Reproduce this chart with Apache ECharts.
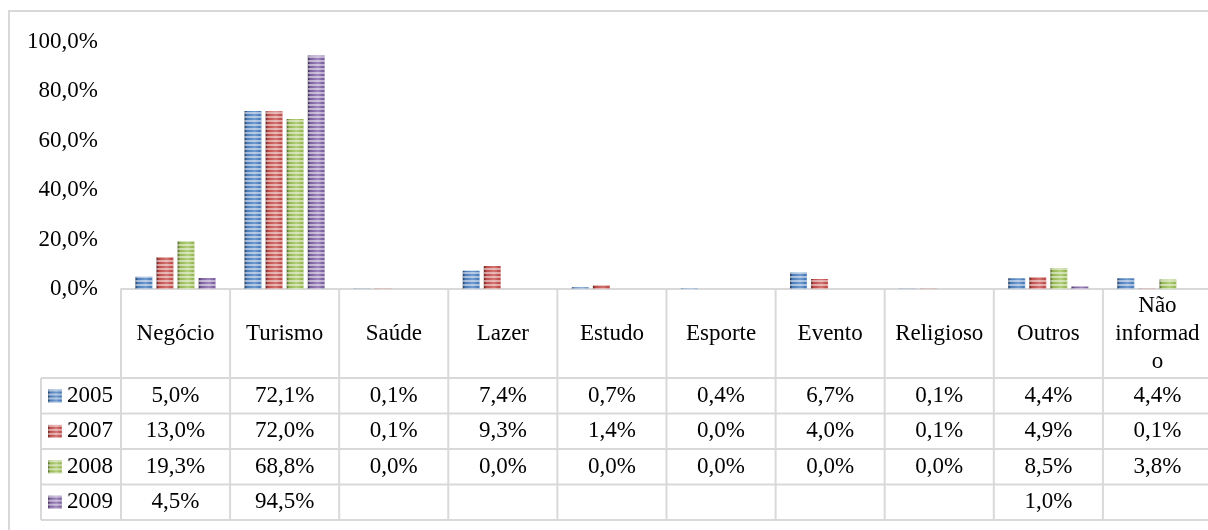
<!DOCTYPE html>
<html>
<head>
<meta charset="utf-8">
<script src="https://cdn.jsdelivr.net/npm/echarts@6/dist/echarts.min.js"></script>
<style>
  html, body { margin: 0; padding: 0; background: #fff; }
  #chart { width: 1208px; height: 530px; }
</style>
</head>
<body>
<div id="chart"></div>
<script>
// categorias (motivo da viagem)
const categories = ['Negócio', 'Turismo', 'Saúde', 'Lazer', 'Estudo', 'Esporte', 'Evento', 'Religioso', 'Outros', 'Não informado']
// rótulos do cabeçalho da tabela (quebra igual ao original)
const headerLabels = ['Negócio', 'Turismo', 'Saúde', 'Lazer', 'Estudo', 'Esporte', 'Evento', 'Religioso', 'Outros', 'Não\ninformad\no']
const years = ['2005', '2007', '2008', '2009']

const v2005 = [5.0, 72.1, 0.1, 7.4, 0.7, 0.4, 6.7, 0.1, 4.4, 4.4]
const v2007 = [13.0, 72.0, 0.1, 9.3, 1.4, 0.0, 4.0, 0.1, 4.9, 0.1]
const v2008 = [19.3, 68.8, 0.0, 0.0, 0.0, 0.0, 0.0, 0.0, 8.5, 3.8]
const v2009 = [4.5, 94.5, null, null, null, null, null, null, 1.0, null]

const yMin = 0
const yMax = 100
const yStep = 20

const seriesValues = [v2005, v2007, v2008, v2009]

// cores estilo Office
const palette = [
  { dark: '#1f3656', base: '#4a7ab5', light: '#6f9bd0' },
  { dark: '#5a1f1d', base: '#bb4a47', light: '#d47572' },
  { dark: '#4a5c25', base: '#94b552', light: '#b3cf7a' },
  { dark: '#3a2c4d', base: '#7a5e9c', light: '#9f86bd' }
]

const font = 'Liberation Serif, Times New Roman, serif'
const fontSize = 23
const lineColor = '#d9d9d9'

// layout da tabela
const plotLeft = 121
const axisY = 289
const tableLeft = 41
const tableRight = 1212
const rowLines = [378, 413.5, 449, 484.5, 520]
const rowCenters = [396, 431, 467, 502]

const fmt = v => (v == null ? '' : v.toFixed(1).replace('.', ',') + '%')

const chart = echarts.init(document.getElementById('chart'))

const barColor = p => ({
  type: 'linear', x: 0, y: 0, x2: 1, y2: 0,
  colorStops: [
    { offset: 0, color: p.dark },
    { offset: 0.14, color: p.base },
    { offset: 0.6, color: p.light },
    { offset: 0.92, color: p.base },
    { offset: 1, color: p.light }
  ]
})

const hLine = (x1, y1, x2, y2) => ({
  type: 'line', silent: true, z: 1,
  shape: { x1, y1, x2, y2 },
  style: { stroke: lineColor, lineWidth: 2 }
})

const baseGraphic = [
  {
    type: 'rect', silent: true,
    shape: { x: 9, y: 11, width: 1260, height: 600 },
    style: { fill: null, stroke: lineColor, lineWidth: 2 }
  },
  hLine(tableLeft, rowLines[0], tableLeft, rowLines[rowLines.length - 1]),
  ...rowLines.map(y => hLine(tableLeft, y, tableRight, y))
]

const option = {
  backgroundColor: '#fff',
  animation: false,
  aria: { enabled: true, decal: { show: true } },
  grid: {
    left: plotLeft,
    top: 42,
    width: tableRight - plotLeft,
    height: axisY - 42,
    containLabel: false,
    outerBoundsMode: 'none'
  },
  legend: {
    orient: 'vertical',
    left: 48,
    top: 384.5,
    padding: 0,
    itemWidth: 14,
    itemHeight: 13,
    itemGap: 12.4,
    icon: 'rect',
    selectedMode: false,
    data: years,
    textStyle: { fontFamily: font, fontSize, color: '#000', lineHeight: 23 }
  },
  xAxis: [
    {
      type: 'category',
      data: categories,
      axisLine: { lineStyle: { color: lineColor, width: 2 } },
      axisTick: { show: false },
      axisLabel: {
        interval: 0,
        margin: 45,
        verticalAlign: 'middle',
        lineHeight: 28,
        fontFamily: font,
        fontSize,
        color: '#000',
        formatter: (v, i) => headerLabels[i]
      }
    },
    ...seriesValues.map((vals, k) => ({
      type: 'category',
      data: categories,
      position: 'bottom',
      axisLine: { show: false },
      axisTick: { show: false },
      axisLabel: {
        interval: 0,
        margin: rowCenters[k] - axisY,
        verticalAlign: 'middle',
        fontFamily: font,
        fontSize,
        color: '#000',
        formatter: (v, i) => fmt(vals[i])
      }
    }))
  ],
  yAxis: {
    type: 'value',
    min: yMin,
    max: yMax,
    interval: yStep,
    axisLine: { show: false },
    axisTick: { show: false },
    splitLine: { show: false },
    axisLabel: {
      margin: 23,
      fontFamily: font,
      fontSize,
      color: '#000',
      formatter: v => v.toFixed(1).replace('.', ',') + '%'
    }
  },
  series: years.map((name, i) => ({
    name,
    type: 'bar',
    xAxisIndex: 0,
    data: seriesValues[i],
    barWidth: 17,
    barGap: '24%',
    itemStyle: {
      color: barColor(palette[i]),
      borderWidth: 0,
      decal: {
        symbol: 'rect',
        symbolSize: 1,
        dashArrayX: [1, 0],
        dashArrayY: [2, 2],
        rotation: 0,
        color: 'rgba(255,255,255,0.5)'
      }
    }
  })),
  graphic: baseGraphic
}

chart.setOption(option)

// linhas verticais da tabela nos limites das categorias
const c0 = chart.convertToPixel({ xAxisIndex: 0 }, categories[0])
const c1 = chart.convertToPixel({ xAxisIndex: 0 }, categories[1])
const band = c1 - c0
const bounds = categories.map(c => chart.convertToPixel({ xAxisIndex: 0 }, c) - band / 2)
bounds.push(bounds[bounds.length - 1] + band)
chart.setOption({
  graphic: [...baseGraphic, ...bounds.map(x => hLine(x, axisY + 1, x, rowLines[rowLines.length - 1]))]
})
</script>
</body>
</html>
